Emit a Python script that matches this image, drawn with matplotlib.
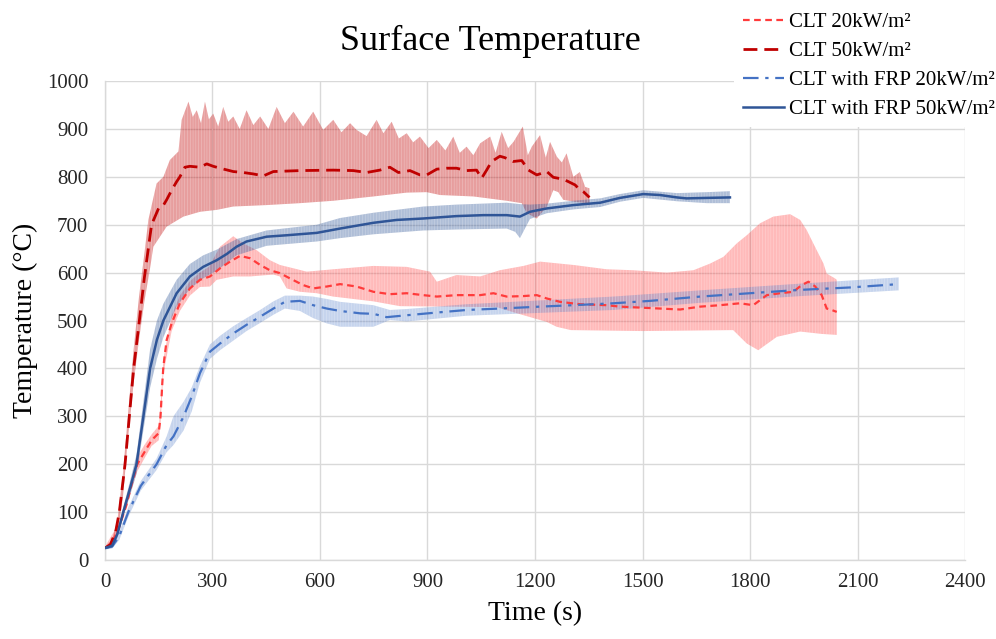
import numpy as np
import matplotlib
matplotlib.use('Agg')
import matplotlib.pyplot as plt

plt.rcParams['font.family'] = ['Liberation Serif', 'DejaVu Serif']
plt.rcParams['hatch.linewidth'] = 0.4

# CLT 50 kW/m2 : mean curve and scatter envelope
t_c50 = [0, 15, 30, 40, 56, 68, 80, 96, 110, 130, 150, 161, 172, 186, 200, 209, 223, 237, 265, 284,
         302, 321, 358, 386, 414, 442, 470, 544, 637, 693, 730, 767, 795, 819, 851, 879, 898, 926,
         953, 981, 1009, 1037, 1051, 1065, 1079, 1102, 1116, 1139, 1163, 1182, 1205, 1233, 1251,
         1279, 1293, 1312, 1321, 1335, 1352]
T_c50 = [25, 32, 60, 100, 200, 300, 400, 500, 590, 700, 735, 738, 752, 772, 790, 800, 820, 822, 820, 827,
         822, 818, 811, 809, 806, 802, 811, 813, 814, 813, 809, 814, 820, 809, 813, 804, 804, 816,
         818, 818, 813, 814, 797, 814, 832, 843, 840, 832, 834, 814, 804, 811, 799,
         795, 790, 783, 776, 769, 757]
t_c50_hi = [0, 20, 35, 50, 65, 80, 95, 110, 121, 144, 163, 181, 205, 214, 233, 245, 256, 268, 279, 290,
            302, 316, 330, 344, 358, 376, 395, 414, 433, 456, 479, 502, 526, 553, 581, 609, 637,
            660, 684, 702, 730, 758, 777, 800, 820, 842, 860, 879, 903, 926, 950, 972, 990, 1009,
            1028, 1047, 1075, 1090, 1107, 1125, 1140, 1166, 1180, 1191, 1214, 1230, 1242, 1261,
            1275, 1288, 1307, 1325, 1340, 1352]
T_c50_hi = [28, 42, 85, 180, 310, 440, 550, 640, 710, 786, 800, 835, 853, 919, 957, 925, 939, 912, 957, 920,
            932, 905, 946, 915, 926, 900, 939, 908, 926, 900, 946, 912, 936, 905, 936, 898, 919,
            893, 912, 898, 885, 919, 891, 915, 880, 891, 872, 884, 860, 877, 855, 884, 850, 863,
            845, 870, 884, 850, 894, 860, 873, 905, 845, 863, 887, 840, 873, 842,
            830, 849, 800, 810, 779, 776]
t_c50_lo = [0, 20, 35, 50, 65, 80, 95, 110, 126, 135, 172, 219, 265, 312, 358, 451, 544, 637, 749, 842,
            898, 935, 1028, 1121, 1163, 1177, 1205, 1233, 1251, 1265, 1279, 1310, 1344, 1352]
T_c50_lo = [22, 28, 55, 130, 260, 370, 460, 540, 610, 654, 696, 717, 727, 731, 738, 741, 745, 750, 759, 767,
            768, 762, 759, 750, 745, 724, 713, 738, 772, 768, 752, 748, 745, 740]

# CLT 20 kW/m2
t_c20 = [0, 20, 40, 60, 75, 90, 110, 130, 150, 155, 160, 163, 172, 186, 209, 237, 265, 293, 321, 349,
         377, 405, 433, 460, 488, 516, 553, 581, 619, 656, 702, 749, 795, 842, 888, 926, 981, 1047,
         1084, 1121, 1167, 1205, 1233, 1270, 1326, 1400, 1437, 1493, 1549, 1605, 1661, 1716, 1772,
         1809, 1847, 1884, 1921, 1944, 1963, 1982, 2000, 2014, 2028, 2042]
T_c20 = [25, 35, 70, 115, 160, 200, 225, 250, 265, 300, 370, 404, 459, 494, 536, 567, 585, 592, 609, 623,
         635, 630, 616, 605, 599, 588, 574, 567, 571, 576, 571, 560, 555, 557, 553, 550, 553, 553,
         557, 550, 551, 553, 546, 539, 534, 532, 529, 527, 525, 523, 529, 532, 536,
         532, 553, 557, 560, 574, 581, 571, 553, 525, 522, 518]
t_c20_hi = [0, 40, 75, 90, 110, 130, 150, 155, 163, 186, 209, 237, 265, 290, 321, 358, 386, 423, 460, 488,
            526, 563, 637, 749, 842, 907, 926, 981, 1047, 1102, 1168, 1214, 1307, 1400, 1474, 1568,
            1642, 1689, 1726, 1763, 1791, 1828, 1865, 1912, 1940, 1958, 1986, 2005, 2014, 2037, 2042]
T_c20_hi = [28, 78, 172, 215, 240, 262, 280, 320, 420, 510, 552, 582, 600, 612, 654, 676, 661, 647, 626, 616,
            609, 602, 607, 614, 612, 602, 581, 595, 592, 605, 614, 623, 616, 607, 605, 600,
            605, 619, 633, 661, 678, 703, 717, 722, 710, 689, 647, 619, 598, 588, 585]
t_c20_lo = [0, 40, 75, 90, 110, 130, 150, 155, 163, 186, 209, 237, 265, 293, 312, 358, 405, 470, 488, 507,
            544, 591, 637, 749, 823, 1093, 1150, 1233, 1260, 1300, 1500, 1753, 1791, 1823, 1875, 1940,
            2000, 2042]
T_c20_lo = [22, 62, 150, 185, 212, 238, 250, 285, 390, 478, 520, 552, 570, 571, 585, 592, 592, 596, 592, 567,
            560, 557, 550, 540, 530, 528, 515, 497, 487, 480, 478, 480, 452, 438, 466, 477,
            472, 470]

# CLT with FRP 20 kW/m2
t_f20 = [0, 20, 40, 65, 100, 144, 172, 191, 219, 242, 265, 293, 321, 358, 395, 433, 470, 502, 544, 581,
         619, 656, 712, 749, 786, 842, 916, 1009, 1102, 1214, 1307, 1419, 1521, 1661, 1800, 1940,
         2079, 2215]
T_f20 = [25, 28, 50, 100, 155, 200, 240, 258, 299, 341, 390, 435, 452, 473, 491, 508, 525, 539, 541, 532,
         525, 520, 515, 514, 507, 511, 516, 522, 525, 529, 532, 536, 541, 550, 557, 564,
         569, 576]
t_f20_hi = [0, 20, 40, 65, 100, 144, 172, 191, 219, 242, 265, 293, 321, 358, 395, 433, 470, 502, 544, 581,
            619, 656, 749, 795, 842, 1009, 1214, 1419, 1661, 1940, 2215]
T_f20_hi = [28, 33, 58, 110, 165, 212, 258, 300, 330, 360, 405, 450, 468, 488, 505, 522, 540, 552, 552, 550,
            545, 539, 532, 522, 524, 534, 542, 550, 563, 577, 590]
t_f20_lo = t_f20_hi
T_f20_lo = [22, 24, 42, 90, 145, 188, 225, 240, 270, 310, 370, 420, 438, 458, 478, 495, 512, 525, 520, 505,
            494, 487, 487, 501, 498, 510, 516, 522, 537, 551, 563]

# CLT with FRP 50 kW/m2
t_f50 = [0, 20, 35, 51, 70, 88, 107, 126, 145, 163, 200, 237, 274, 312, 340, 367, 395, 451, 507, 591,
         656, 749, 814, 888, 981, 1056, 1121, 1158, 1186, 1233, 1307, 1382, 1437, 1502, 1549, 1596,
         1623, 1680, 1744]
T_f50 = [25, 30, 55, 100, 150, 200, 299, 400, 460, 500, 557, 592, 612, 626, 639, 654, 665, 675, 678, 683,
         692, 704, 710, 713, 718, 720, 720, 717, 727, 734, 741, 746, 756, 764, 762, 757,
         755, 756, 757]
t_f50_hi = [0, 20, 35, 51, 70, 88, 107, 126, 145, 163, 200, 237, 274, 312, 367, 451, 591, 656, 749, 888,
            981, 1121, 1158, 1186, 1233, 1307, 1382, 1437, 1502, 1596, 1680, 1744]
T_f50_hi = [27, 34, 62, 110, 165, 220, 330, 440, 500, 535, 585, 618, 636, 648, 670, 688, 700, 714, 725, 738,
            742, 746, 743, 742, 744, 750, 755, 764, 772, 766, 768, 770]
t_f50_lo = [0, 20, 35, 51, 70, 88, 107, 126, 145, 163, 200, 237, 274, 312, 367, 451, 591, 656, 749, 888,
            981, 1121, 1145, 1158, 1186, 1233, 1307, 1382, 1437, 1502, 1596, 1680, 1744]
T_f50_lo = [22, 26, 48, 90, 135, 180, 270, 360, 420, 465, 529, 566, 588, 604, 636, 656, 665, 672, 680, 688,
            690, 692, 685, 672, 712, 724, 732, 737, 748, 756, 749, 745, 745]

x_ticks = np.arange(0, 2401, 300)
y_ticks = np.arange(0, 1001, 100)


def band(ax, tu, Tu, tl, Tl, color, alpha):
    # envelope polygon: upper edge forward, lower edge back
    xs = np.concatenate([tu, tl[::-1]])
    ys = np.concatenate([Tu, Tl[::-1]])
    fc = matplotlib.colors.to_rgba(color, alpha)
    ax.fill(xs, ys, facecolor=fc, edgecolor=(1, 1, 1, 0.35), hatch='||||||', linewidth=0, zorder=2)


fig = plt.figure(figsize=(9.96, 6.39), dpi=100)
ax = fig.add_axes([0.1054, 0.1236, 0.8635, 0.7496])

band(ax, t_c50_hi, T_c50_hi, t_c50_lo, T_c50_lo, '#C00000', 0.38)
band(ax, t_c20_hi, T_c20_hi, t_c20_lo, T_c20_lo, '#FF4040', 0.36)
band(ax, t_f20_hi, T_f20_hi, t_f20_lo, T_f20_lo, '#4472C4', 0.30)
band(ax, t_f50_hi, T_f50_hi, t_f50_lo, T_f50_lo, '#2F5597', 0.38)

ax.plot(t_c20, T_c20, color='#FF3B3B', lw=1.6, ls=(0, (3, 2)), label='CLT 20kW/m²', zorder=4)
ax.plot(t_c50, T_c50, color='#C00000', lw=2.0, ls=(0, (5, 2.5)), label='CLT 50kW/m²', zorder=4)
ax.plot(t_f20, T_f20, color='#4472C4', lw=1.6, ls=(0, (7, 3, 1.5, 3)), label='CLT with FRP 20kW/m²', zorder=4)
ax.plot(t_f50, T_f50, color='#2F5597', lw=1.8, ls='-', label='CLT with FRP 50kW/m²', zorder=4)

ax.set_xlim(0, 2400)
ax.set_ylim(0, 1000)
ax.set_xticks(x_ticks)
ax.set_yticks(y_ticks)
ax.tick_params(length=0, labelsize=15, colors='#262626')
ax.tick_params(axis='y', pad=12)
ax.tick_params(axis='x', pad=9)
ax.grid(True, color='#D9D9D9', lw=1.0, zorder=0)
ax.set_axisbelow(True)
for s in ['top', 'right']:
    ax.spines[s].set_visible(False)
for s in ['left', 'bottom']:
    ax.spines[s].set_color('#D9D9D9')
    ax.spines[s].set_linewidth(1.0)

ax.set_xlabel('Time (s)', fontsize=20, labelpad=7)
ax.set_ylabel('Temperature (°C)', fontsize=20, labelpad=6)
fig.text(0.492, 0.935, 'Surface Temperature', ha='center', va='center', fontsize=26)

leg = fig.legend(loc='upper right', bbox_to_anchor=(1.011, 1.0), fontsize=15, frameon=True,
                 handlelength=2.0, handletextpad=0.2, labelspacing=0.45, borderaxespad=0.2)
leg.get_frame().set_facecolor('white')
leg.get_frame().set_edgecolor('none')
leg.get_frame().set_alpha(1.0)
leg.set_zorder(10)

fig.savefig('out.png', dpi=100)
